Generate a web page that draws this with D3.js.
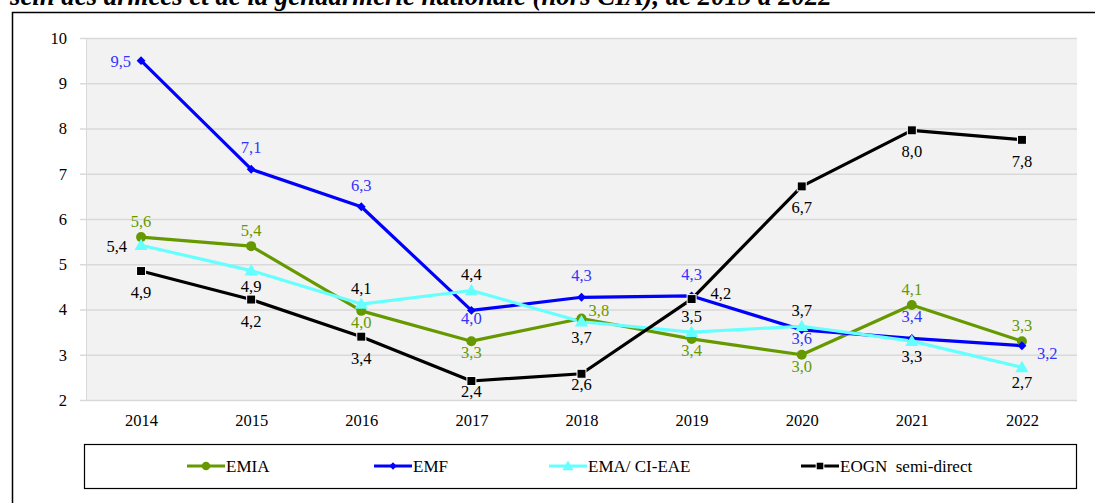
<!DOCTYPE html>
<html><head><meta charset="utf-8">
<script src="https://cdn.jsdelivr.net/npm/d3@7"></script>
<style>
html,body{margin:0;padding:0;background:#fff;}
svg{display:block;}
svg text{font-family:"Liberation Serif","DejaVu Serif","Times New Roman",serif;}
</style></head>
<body>
<svg id="c" width="1095" height="503"></svg>
<script>
const years = ["2014","2015","2016","2017","2018","2019","2020","2021","2022"];
const yTicks = [2,3,4,5,6,7,8,9,10];
const seriesNames = ["EMIA","EMF","EMA/ CI-EAE","EOGN  semi-direct"];
const emia = [5.6,5.4,3.97,3.3,3.8,3.35,3.0,4.1,3.3];
const emf  = [9.5,7.1,6.27,3.98,4.27,4.3,3.55,3.36,3.2];
const ema  = [5.42,4.86,4.12,4.42,3.73,3.5,3.63,3.3,2.72];
const eogn = [4.85,4.22,3.4,2.42,2.58,4.23,6.72,7.96,7.75];
const emiaLab = ["5,6","5,4","4,0","3,3","3,8","3,4","3,0","4,1","3,3"];
const emfLab  = ["9,5","7,1","6,3","4,0","4,3","4,3","3,6","3,4","3,2"];
const emaLab  = ["5,4","4,9","4,1","4,4","3,7","3,5","3,7","3,3","2,7"];
const eognLab = ["4,9","4,2","3,4","2,4","2,6","4,2","6,7","8,0","7,8"];
// label placement: t=above, b=below, c=below (close), l=left, r=right
const emiaPos = ["t","t","b","b","r","b","b","t","t"];
const emfPos  = ["l","t","t","b","t","t","b","t","r"];
const emaPos  = ["l","b","t","t","b","t","t","b","b"];
const eognPos = ["b","b","b","c","c","r","b","b","b"];

(function(){
const svg = d3.select("#c");

svg.append("text").attr("x",10).attr("y",5)
  .attr("font-weight","bold").attr("font-style","italic")
  .attr("font-size",26.8).attr("fill","#000")
  .text("sein des armées et de la gendarmerie nationale (hors CIA), de 2015 à 2022");

svg.append("path").attr("d","M12.5,503 V12.5 H1095").attr("fill","none").attr("stroke","#000").attr("stroke-width",1.5);

const pl=86, pr=1077, pt=38, pb=400;
const x = d3.scalePoint().domain(years).range([pl,pr]).padding(0.5);
const y = d3.scaleLinear().domain([2,10]).range([pb,pt]);

svg.append("rect").attr("x",pl).attr("y",pt).attr("width",pr-pl).attr("height",pb-pt).attr("fill","#f2f2f2");

const ya = svg.append("g").attr("transform",`translate(${pl},0)`)
  .call(d3.axisLeft(y).tickValues(yTicks).tickSize(6).tickPadding(13));
ya.select(".domain").remove();
ya.selectAll(".tick line").attr("x1",-6).attr("x2",pr-pl).attr("stroke","#d9d9d9").attr("stroke-width",1.3);
ya.selectAll(".tick text").attr("font-size",16.5).attr("fill","#000").attr("font-family",null);
svg.append("line").attr("x1",pl+0.5).attr("x2",pl+0.5).attr("y1",pt).attr("y2",pb+1).attr("stroke","#d9d9d9");

const xa = svg.append("g").attr("transform",`translate(0,${pb})`)
  .call(d3.axisBottom(x).tickSize(0).tickPadding(14));
xa.select(".domain").remove();
xa.selectAll(".tick text").attr("font-size",16.5).attr("fill","#000").attr("font-family",null);

const series = [
  {vals:emia, labs:emiaLab, pos:emiaPos, color:"#669900", lab:"#669900", shape:"circle",
   off:{t:[0,-10],b:[0,17],r:[7,-3]}},
  {vals:emf, labs:emfLab, pos:emfPos, color:"#0000ff", lab:"#3333ff", shape:"diamond",
   off:{t:[0,-16],b:[0,14],l:[-10,6],r:[15,13]}},
  {vals:ema, labs:emaLab, pos:emaPos, color:"#66ffff", lab:"#000", shape:"triangle",
   off:{t:[0,-10],b:[0,21],l:[-14,7]}},
  {vals:eogn, labs:eognLab, pos:eognPos, color:"#000000", lab:"#000", shape:"square",
   off:{b:[0,27],c:[0,16],r:[19,0]}}
];

const line = d3.line().x((d,i)=>x(years[i])).y(d=>y(d));

function marker(g, shape, color, cx, cy, s){
  if(shape==="circle") g.append("circle").attr("cx",cx).attr("cy",cy).attr("r",5*s).attr("fill",color);
  else if(shape==="diamond") g.append("path").attr("d",d3.symbol(d3.symbolDiamond2,50*s*s)()).attr("transform",`translate(${cx},${cy})`).attr("fill",color);
  else if(shape==="triangle") g.append("path").attr("d",d3.symbol(d3.symbolTriangle,75*s*s)()).attr("transform",`translate(${cx},${cy+1})`).attr("fill",color);
  else g.append("rect").attr("x",cx-4.5*s).attr("y",cy-4.5*s).attr("width",9*s).attr("height",9*s).attr("fill",color).attr("stroke","#fff").attr("stroke-width",1);
}

series.forEach(s=>{
  svg.append("path").datum(s.vals).attr("d",line).attr("fill","none").attr("stroke",s.color).attr("stroke-width",3.2).attr("stroke-linejoin","round");
});
series.forEach(s=>{
  const g = svg.append("g");
  s.vals.forEach((v,i)=>marker(g,s.shape,s.color,x(years[i]),y(v),1));
});
series.forEach(s=>{
  s.vals.forEach((v,i)=>{
    const cx=x(years[i]), cy=y(v), p=s.pos[i];
    const o = s.off[p];
    const anchor = p==="l" ? "end" : (p==="r" ? "start" : "middle");
    svg.append("text").attr("x",cx+o[0]).attr("y",cy+o[1]).attr("text-anchor",anchor)
      .attr("font-size",16.5).attr("fill",s.lab).text(s.labs[i]);
  });
});

// legend
svg.append("rect").attr("x",84.5).attr("y",444.5).attr("width",992).attr("height",44).attr("fill","#fff").attr("stroke","#000").attr("stroke-width",1.2);
const lineStarts = [187,374,549,801];
const lineLen = 38;
series.forEach((s,i)=>{
  const x0 = lineStarts[i], yy = 466;
  const g = svg.append("g");
  g.append("line").attr("x1",x0).attr("x2",x0+lineLen).attr("y1",yy).attr("y2",yy).attr("stroke",s.color).attr("stroke-width",3.2);
  marker(g, s.shape, s.color, x0+lineLen/2, yy, 0.85);
  svg.append("text").attr("x",x0+lineLen+1).attr("y",yy+5.5).attr("font-size",17).attr("fill","#000").style("white-space","pre").text(seriesNames[i]);
});
})();
</script>
</body></html>
